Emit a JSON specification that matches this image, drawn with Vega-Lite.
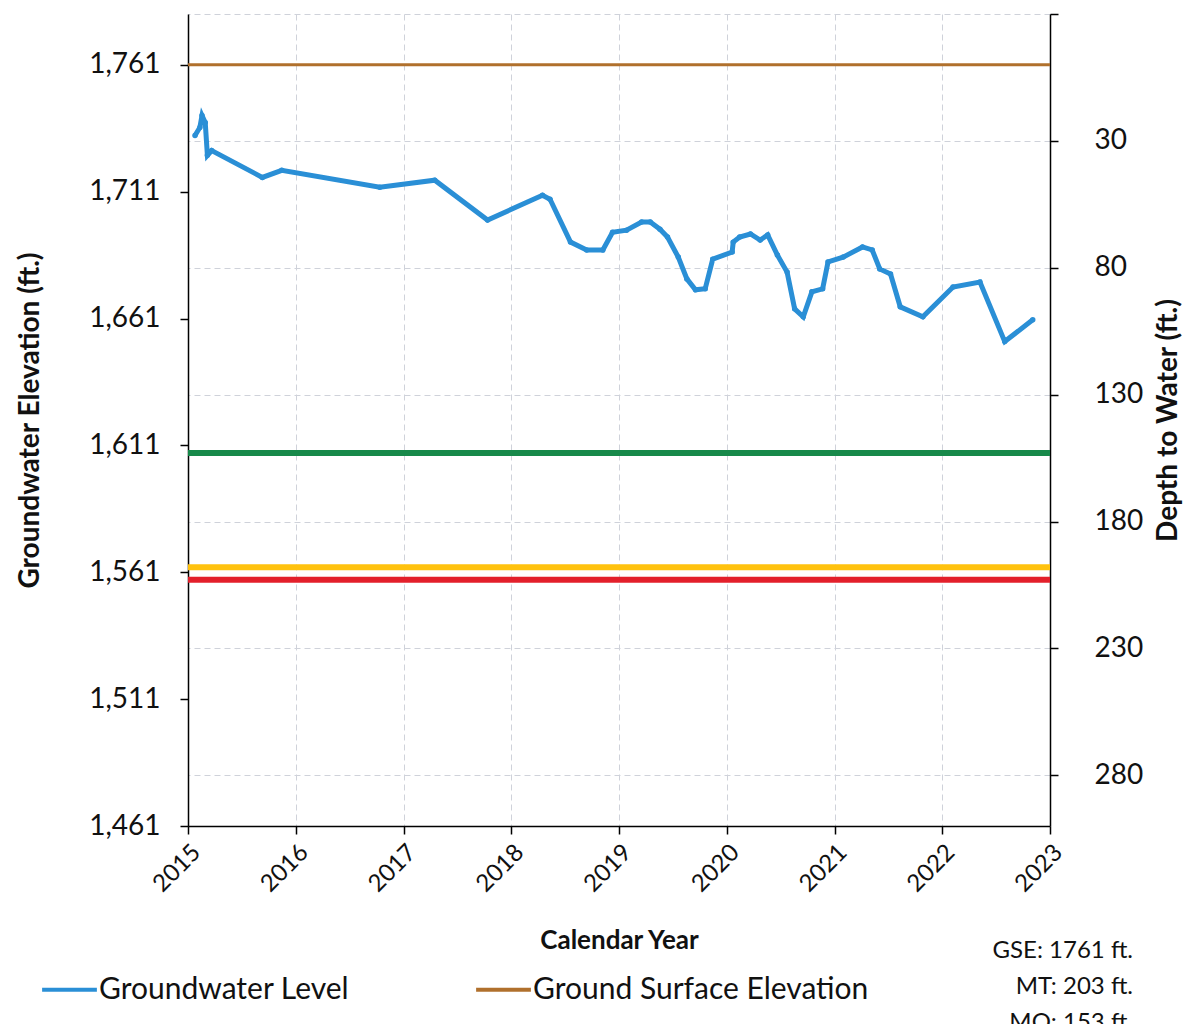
{
  "$schema": "https://vega.github.io/schema/vega-lite/v6.json",
  "width": 862,
  "height": 812,
  "autosize": "none",
  "padding": {"left": 188, "top": 14, "right": 141, "bottom": 198},
  "background": "white",
  "config": {
    "font": "Lato",
    "view": {"stroke": null},
    "axis": {
      "domainColor": "#000000",
      "domainWidth": 1.5,
      "tickColor": "#000000",
      "tickWidth": 1.5,
      "labelColor": "#111111",
      "titleColor": "#111111",
      "gridColor": "#cfd2da",
      "gridDash": [6, 4],
      "gridWidth": 1
    },
    "legend": {
      "orient": "none",
      "legendX": -148,
      "legendY": 946,
      "direction": "horizontal",
      "padding": 0,
      "labelFontSize": 30,
      "labelColor": "#111111",
      "labelLimit": 600,
      "symbolType": "stroke",
      "symbolSize": 3000,
      "symbolStrokeWidth": 4,
      "labelOffset": 0,
      "columnPadding": 118,
      "title": null
    }
  },
  "title": {
    "text": ["GSE: 1761 ft.", "MT: 203 ft.", "MO: 153 ft."],
    "orient": "bottom",
    "anchor": "end",
    "frame": "group",
    "align": "right",
    "fontSize": 24,
    "fontWeight": "normal",
    "color": "#111111",
    "lineHeight": 36,
    "offset": -66,
    "dx": 83
  },
  "datasets": {
    "gw": [
      {"year": 2015.065, "elevation": 1733.1, "series": "Groundwater Level"},
      {"year": 2015.11, "elevation": 1736.3, "series": "Groundwater Level"},
      {"year": 2015.13, "elevation": 1741.0, "series": "Groundwater Level"},
      {"year": 2015.16, "elevation": 1738.2, "series": "Groundwater Level"},
      {"year": 2015.18, "elevation": 1725.3, "series": "Groundwater Level"},
      {"year": 2015.22, "elevation": 1727.2, "series": "Groundwater Level"},
      {"year": 2015.69, "elevation": 1716.6, "series": "Groundwater Level"},
      {"year": 2015.87, "elevation": 1719.4, "series": "Groundwater Level"},
      {"year": 2016.78, "elevation": 1712.7, "series": "Groundwater Level"},
      {"year": 2017.29, "elevation": 1715.5, "series": "Groundwater Level"},
      {"year": 2017.78, "elevation": 1699.8, "series": "Groundwater Level"},
      {"year": 2018.29, "elevation": 1709.6, "series": "Groundwater Level"},
      {"year": 2018.36, "elevation": 1708.0, "series": "Groundwater Level"},
      {"year": 2018.55, "elevation": 1691.1, "series": "Groundwater Level"},
      {"year": 2018.70, "elevation": 1688.0, "series": "Groundwater Level"},
      {"year": 2018.85, "elevation": 1688.0, "series": "Groundwater Level"},
      {"year": 2018.94, "elevation": 1695.0, "series": "Groundwater Level"},
      {"year": 2019.07, "elevation": 1695.8, "series": "Groundwater Level"},
      {"year": 2019.21, "elevation": 1699.0, "series": "Groundwater Level"},
      {"year": 2019.29, "elevation": 1699.0, "series": "Groundwater Level"},
      {"year": 2019.38, "elevation": 1696.2, "series": "Groundwater Level"},
      {"year": 2019.45, "elevation": 1693.1, "series": "Groundwater Level"},
      {"year": 2019.55, "elevation": 1685.2, "series": "Groundwater Level"},
      {"year": 2019.63, "elevation": 1676.6, "series": "Groundwater Level"},
      {"year": 2019.71, "elevation": 1672.3, "series": "Groundwater Level"},
      {"year": 2019.80, "elevation": 1672.7, "series": "Groundwater Level"},
      {"year": 2019.87, "elevation": 1684.4, "series": "Groundwater Level"},
      {"year": 2020.05, "elevation": 1687.2, "series": "Groundwater Level"},
      {"year": 2020.06, "elevation": 1691.1, "series": "Groundwater Level"},
      {"year": 2020.12, "elevation": 1693.1, "series": "Groundwater Level"},
      {"year": 2020.22, "elevation": 1694.3, "series": "Groundwater Level"},
      {"year": 2020.31, "elevation": 1691.9, "series": "Groundwater Level"},
      {"year": 2020.38, "elevation": 1693.9, "series": "Groundwater Level"},
      {"year": 2020.47, "elevation": 1686.0, "series": "Groundwater Level"},
      {"year": 2020.56, "elevation": 1679.3, "series": "Groundwater Level"},
      {"year": 2020.63, "elevation": 1664.8, "series": "Groundwater Level"},
      {"year": 2020.71, "elevation": 1661.7, "series": "Groundwater Level"},
      {"year": 2020.79, "elevation": 1671.5, "series": "Groundwater Level"},
      {"year": 2020.89, "elevation": 1672.7, "series": "Groundwater Level"},
      {"year": 2020.94, "elevation": 1683.3, "series": "Groundwater Level"},
      {"year": 2021.08, "elevation": 1685.2, "series": "Groundwater Level"},
      {"year": 2021.26, "elevation": 1689.2, "series": "Groundwater Level"},
      {"year": 2021.35, "elevation": 1688.0, "series": "Groundwater Level"},
      {"year": 2021.42, "elevation": 1680.5, "series": "Groundwater Level"},
      {"year": 2021.52, "elevation": 1678.5, "series": "Groundwater Level"},
      {"year": 2021.61, "elevation": 1665.6, "series": "Groundwater Level"},
      {"year": 2021.82, "elevation": 1661.7, "series": "Groundwater Level"},
      {"year": 2022.10, "elevation": 1673.4, "series": "Groundwater Level"},
      {"year": 2022.35, "elevation": 1675.4, "series": "Groundwater Level"},
      {"year": 2022.58, "elevation": 1651.9, "series": "Groundwater Level"},
      {"year": 2022.84, "elevation": 1660.5, "series": "Groundwater Level"}
    ],
    "gse": [
      {"depth": 0, "series": "Ground Surface Elevation"}
    ],
    "thresholds": [
      {"depth": 153, "name": "MO", "color": "#17894a"},
      {"depth": 198, "name": "Threshold", "color": "#ffc20e"},
      {"depth": 203, "name": "MT", "color": "#e3202b"}
    ]
  },
  "layer": [
    {
      "data": {"name": "gw"},
      "encoding": {
        "x": {
          "field": "year",
          "type": "quantitative",
          "scale": {"domain": [2015, 2023], "nice": false, "zero": false},
          "axis": {
            "values": [2015, 2016, 2017, 2018, 2019, 2020, 2021, 2022, 2023],
            "format": "d",
            "labelAngle": -45,
            "labelFontSize": 24,
            "labelPadding": 6,
            "tickSize": 8,
            "grid": true,
            "title": "Calendar Year",
            "titleFontSize": 26,
            "titleFontWeight": "bold",
            "titlePadding": 31
          }
        },
        "y": {
          "field": "elevation",
          "type": "quantitative",
          "scale": {"domain": [1461, 1781], "nice": false, "zero": false},
          "axis": {
            "orient": "left",
            "values": [1461, 1511, 1561, 1611, 1661, 1711, 1761],
            "format": ",d",
            "grid": false,
            "labelFontSize": 28,
            "labelPadding": 20,
            "tickSize": 8,
            "title": "Groundwater Elevation (ft.)",
            "titleFontSize": 28,
            "titleFontWeight": "bold",
            "titlePadding": 44
          }
        },
        "color": {
          "field": "series",
          "type": "nominal",
          "scale": {
            "domain": ["Groundwater Level", "Ground Surface Elevation"],
            "range": ["#2a8fd6", "#b0702c"]
          }
        }
      },
      "layer": [
        {"mark": {"type": "line", "strokeWidth": 5}},
        {"mark": {"type": "point", "filled": true, "size": 30, "opacity": 1, "color": "#1f7fc4"}}
      ]
    },
    {
      "layer": [
        {
          "data": {"name": "thresholds"},
          "mark": {"type": "rule", "strokeWidth": 6},
          "encoding": {
            "y": {
              "field": "depth",
              "type": "quantitative",
              "scale": {"domain": [-20, 300], "nice": false, "zero": false, "reverse": true},
              "axis": {
                "orient": "right",
                "values": [-20, 30, 80, 130, 180, 230, 280],
                "labelExpr": "datum.value < 0 ? '' : datum.label",
                "grid": true,
                "labelFontSize": 28,
                "labelPadding": 36,
                "tickSize": 8,
                "title": "Depth to Water (ft.)",
                "titleFontSize": 28,
                "titleFontWeight": "bold",
                "titleAngle": 270,
                "titleBaseline": "top",
                "titlePadding": 12
              }
            },
            "stroke": {"field": "color", "type": "nominal", "scale": null, "legend": null}
          }
        },
        {
          "data": {"name": "gse"},
          "mark": {"type": "rule", "strokeWidth": 3},
          "encoding": {
            "y": {"field": "depth", "type": "quantitative"},
            "color": {"field": "series", "type": "nominal"}
          }
        }
      ]
    }
  ],
  "resolve": {"scale": {"y": "independent"}, "axis": {"y": "independent"}}
}
